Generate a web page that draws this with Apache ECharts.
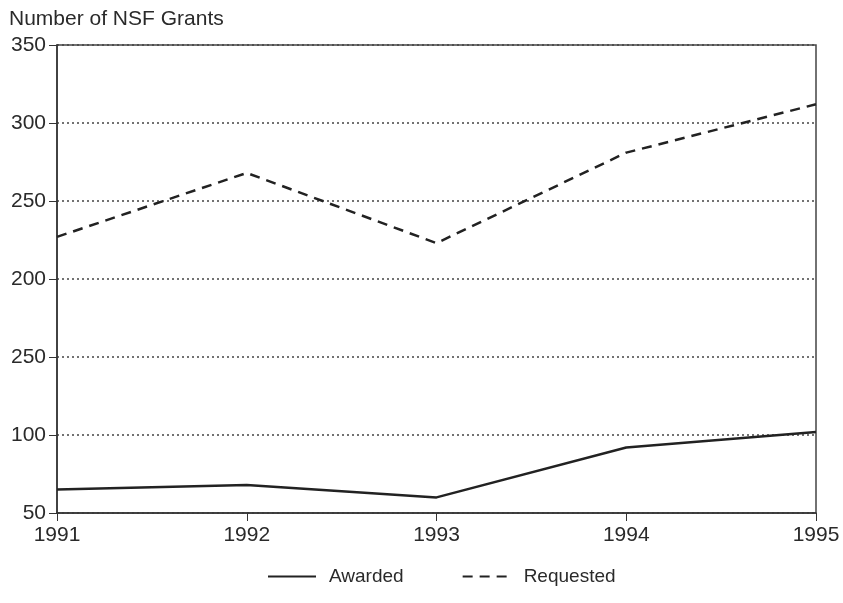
<!DOCTYPE html>
<html>
<head>
<meta charset="utf-8">
<script src="https://cdn.jsdelivr.net/npm/echarts@6/dist/echarts.min.js"></script>
<style>
  html, body { margin: 0; padding: 0; background: #fff; }
  #chart { width: 843px; height: 603px; }
</style>
</head>
<body>
<div id="chart"></div>
<script>
const years = ['1991', '1992', '1993', '1994', '1995'];
const awarded = [65, 68, 60, 92, 102];
const requested = [227, 268, 223, 281, 312];
// tick labels as printed in the original (150 is labelled "250" there)
const yTickValues = [50, 100, 150, 200, 250, 300, 350];
const yTickLabels = ['50', '100', '250', '200', '250', '300', '350'];

const ink = '#2a2a2a';
const font = 'Liberation Sans, Arial, sans-serif';

let chart = echarts.init(document.getElementById('chart'));

chart.setOption({
    animation: false,
    backgroundColor: '#fff',
    textStyle: { fontFamily: font, color: ink },
    title: {
        text: 'Number of NSF Grants',
        left: 4,
        top: 4,
        textStyle: { fontSize: 21, fontWeight: 'normal', color: ink, fontFamily: font }
    },
    legend: {
        bottom: 12,
        left: 262,
        itemWidth: 48,
        itemHeight: 10,
        itemGap: 58,
        itemStyle: { opacity: 0 },
        textStyle: { fontSize: 19, color: ink, fontFamily: font, padding: [0, 0, 0, 8] },
        data: ['Awarded', 'Requested']
    },
    grid: {
        left: 57,
        right: 27,
        top: 45,
        bottom: 90,
        show: true,
        borderColor: '#444',
        borderWidth: 1.5,
        backgroundColor: 'transparent'
    },
    xAxis: {
        type: 'category',
        data: years,
        boundaryGap: false,
        axisLine: { lineStyle: { color: '#333', width: 1.5 } },
        axisTick: { length: 8, lineStyle: { color: '#333' } },
        axisLabel: { fontSize: 21, color: ink, margin: 12, fontFamily: font },
        splitLine: { show: false }
    },
    yAxis: {
        type: 'value',
        min: 50,
        max: 350,
        interval: 50,
        axisLine: { show: true, lineStyle: { color: '#333', width: 1.5 } },
        axisTick: { show: true, length: 8, lineStyle: { color: '#333' } },
        axisLabel: {
            fontSize: 21,
            color: ink,
            margin: 11,
            fontFamily: font,
            formatter: v => yTickLabels[yTickValues.indexOf(v)] || ''
        },
        splitLine: { show: true, lineStyle: { color: '#444', type: [2, 3], width: 1.5 } }
    },
    series: [
        {
            name: 'Awarded',
            type: 'line',
            data: awarded,
            symbol: 'none',
            lineStyle: { color: '#222', width: 2.5 },
            itemStyle: { color: '#222' }
        },
        {
            name: 'Requested',
            type: 'line',
            data: requested,
            symbol: 'none',
            lineStyle: { color: '#222', width: 2.5, type: [10, 7] },
            itemStyle: { color: '#222' }
        }
    ]
});
</script>
</body>
</html>
